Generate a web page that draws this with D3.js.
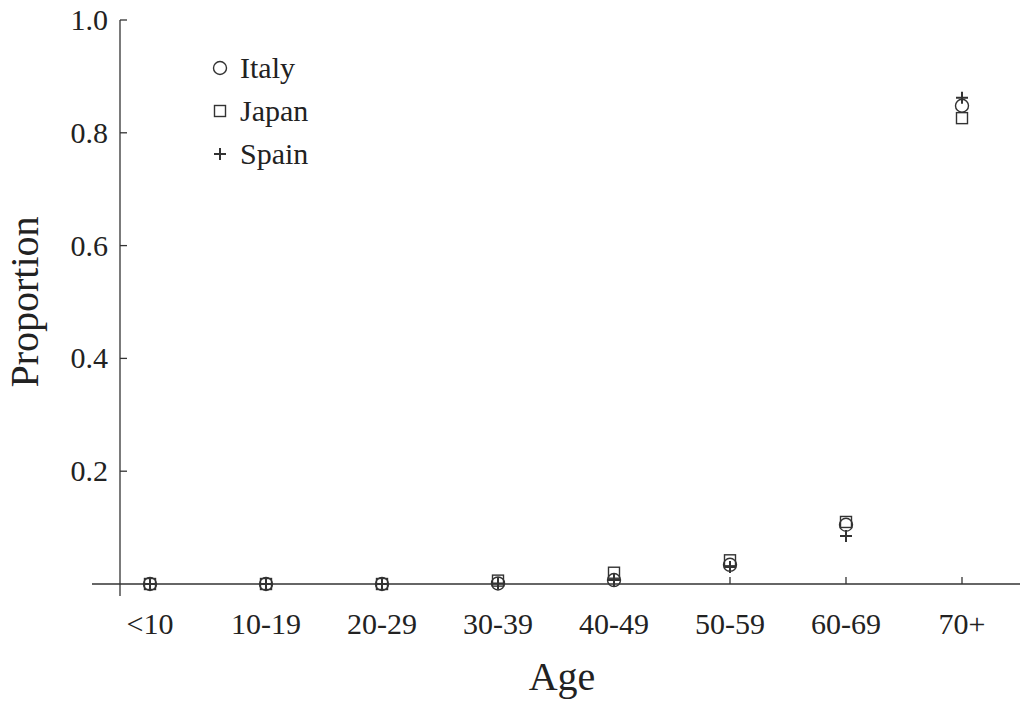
<!DOCTYPE html>
<html>
<head>
<meta charset="utf-8">
<script src="https://cdn.jsdelivr.net/npm/d3@7"></script>
<style>
  body { margin: 0; background: #fff; }
  text { font-family: "Liberation Serif", serif; fill: #222; }
</style>
</head>
<body>
<script>
var ages = ['<10', '10-19', '20-29', '30-39', '40-49', '50-59', '60-69', '70+'];
var italy = [0, 0, 0, 0.001, 0.007, 0.034, 0.105, 0.848];
var japan = [0, 0, 0, 0.006, 0.02, 0.042, 0.11, 0.826];
var spain = [0, 0, 0, 0.001, 0.007, 0.03, 0.085, 0.862];
var yTicks = [0.2, 0.4, 0.6, 0.8, 1.0];

var width = 1024, height = 701;
var svg = d3.select('body').append('svg')
  .attr('width', width).attr('height', height);

var x = d3.scalePoint().domain(ages).range([150, 962]);
var y = d3.scaleLinear().domain([0, 1]).range([584, 20]);
var ink = '#333';

// axes lines
svg.append('line').attr('x1', 92).attr('x2', 1020)
  .attr('y1', y(0)).attr('y2', y(0)).attr('stroke', ink).attr('stroke-width', 1.3);
svg.append('line').attr('x1', 120).attr('x2', 120)
  .attr('y1', y(0) + 12).attr('y2', y(1)).attr('stroke', ink).attr('stroke-width', 1.3);

// y ticks
yTicks.forEach(function (t) {
  svg.append('line').attr('x1', 120).attr('x2', 127)
    .attr('y1', y(t)).attr('y2', y(t)).attr('stroke', ink).attr('stroke-width', 1.3);
  svg.append('text').attr('x', 108).attr('y', y(t) + 10)
    .attr('text-anchor', 'end').attr('font-size', 30).text(t.toFixed(1));
});

// x ticks
ages.forEach(function (a) {
  svg.append('line').attr('x1', x(a)).attr('x2', x(a))
    .attr('y1', y(0)).attr('y2', y(0) - 7).attr('stroke', ink).attr('stroke-width', 1.3);
  svg.append('text').attr('x', x(a)).attr('y', 634)
    .attr('text-anchor', 'middle').attr('font-size', 30).text(a);
});

svg.append('text').attr('x', 562).attr('y', 690).attr('text-anchor', 'middle')
  .attr('font-size', 40).text('Age');
svg.append('text').attr('transform', 'translate(38,' + y(0.5) + ') rotate(-90)')
  .attr('text-anchor', 'middle').attr('font-size', 40).text('Proportion');

function circle(g) { g.append('circle').attr('r', 6.5); }
function square(g) { g.append('rect').attr('x', -5.5).attr('y', -5.5).attr('width', 11).attr('height', 11); }
function plus(g) {
  g.append('path').attr('d', 'M-6,0H6M0,-6V6').attr('stroke-width', 2);
}

function drawSeries(vals, shape) {
  vals.forEach(function (v, i) {
    var g = svg.append('g')
      .attr('transform', 'translate(' + x(ages[i]) + ',' + y(v) + ')')
      .attr('fill', 'none').attr('stroke', ink).attr('stroke-width', 1.4);
    shape(g);
  });
}
drawSeries(italy, circle);
drawSeries(japan, square);
drawSeries(spain, plus);

var legend = [['Italy', circle], ['Japan', square], ['Spain', plus]];
legend.forEach(function (l, i) {
  var ly = 68 + i * 43;
  var g = svg.append('g').attr('transform', 'translate(220,' + ly + ')')
    .attr('fill', 'none').attr('stroke', ink).attr('stroke-width', 1.4);
  l[1](g);
  svg.append('text').attr('x', 240).attr('y', ly + 10).attr('font-size', 30).text(l[0]);
});
</script>
</body>
</html>
